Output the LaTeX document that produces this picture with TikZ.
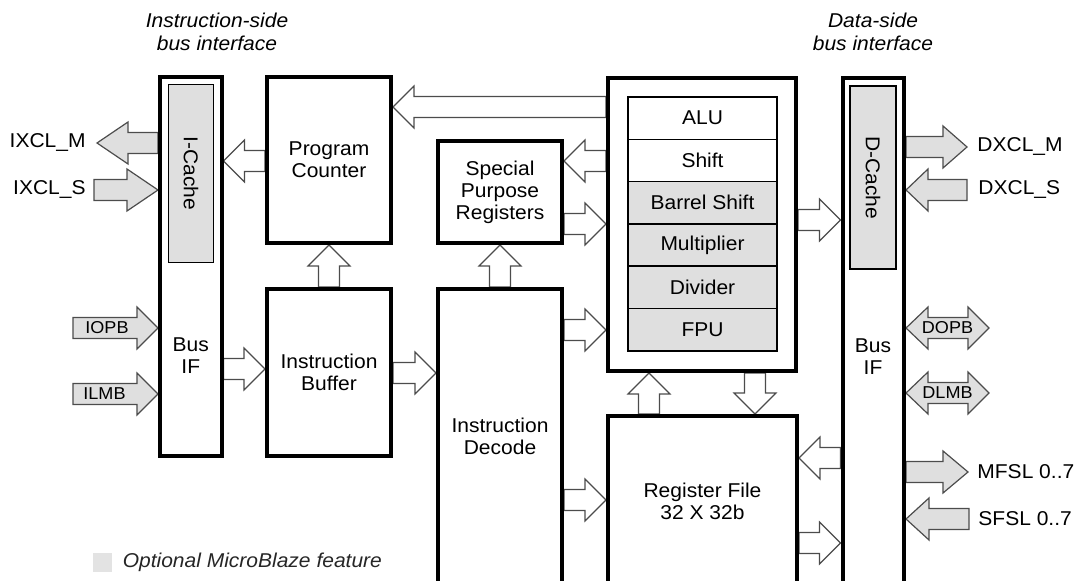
\documentclass[tikz,border=0pt]{standalone}
\usepackage{fontspec}
\setmainfont{Liberation Sans}[FakeStretch=1.05]
\usetikzlibrary{calc,positioning,backgrounds}

% fat block arrow: [head length]{style}{tail}{tip}
\newcommand{\fatarrow}[4][10.5pt]{%
  \coordinate (fa-tail) at (#3);
  \coordinate (fa-tip) at (#4);
  \coordinate (fa-base) at ($(fa-tip)!#1!(fa-tail)$);
  \draw[#2] ($(fa-tail)!5.25pt!90:(fa-tip)$)
    -- ($(fa-base)!5.25pt!90:(fa-tip)$) -- ($(fa-base)!10.5pt!90:(fa-tip)$)
    -- (fa-tip)
    -- ($(fa-base)!10.5pt!-90:(fa-tip)$) -- ($(fa-base)!5.25pt!-90:(fa-tip)$)
    -- ($(fa-tail)!5.25pt!-90:(fa-tip)$) -- cycle;}

% fat arrow with heads at both ends: {style}{end a}{end b}
\newcommand{\dblarrow}[3]{%
  \coordinate (da-a) at (#2);
  \coordinate (da-b) at (#3);
  \coordinate (da-ba) at ($(da-a)!11pt!(da-b)$);
  \coordinate (da-bb) at ($(da-b)!10.5pt!(da-a)$);
  \draw[#1] (da-a)
    -- ($(da-ba)!10.5pt!90:(da-b)$) -- ($(da-ba)!5.25pt!90:(da-b)$)
    -- ($(da-bb)!5.25pt!90:(da-b)$) -- ($(da-bb)!10.5pt!90:(da-b)$)
    -- (da-b)
    -- ($(da-bb)!10.5pt!-90:(da-b)$) -- ($(da-bb)!5.25pt!-90:(da-b)$)
    -- ($(da-ba)!5.25pt!-90:(da-b)$) -- ($(da-ba)!10.5pt!-90:(da-b)$)
    -- cycle;}

\begin{document}
\begin{tikzpicture}[x=0.5pt,y=-0.5pt,
    every node/.style={font=\fontsize{10pt}{11pt}\selectfont, align=center},
    box/.style={draw, line width=2pt, inner sep=0pt},
    cache/.style={draw, line width=0.75pt, fill=gray!25, inner sep=0pt},
    unit/.style={draw, line width=0.75pt, inner sep=0pt, outer sep=0pt, minimum width=74.5pt, minimum height=21.15pt},
    optunit/.style={unit, fill=gray!25},
    whiteblk/.style={draw=black!70, line width=0.6pt, fill=white},
    grayblk/.style={whiteblk, fill=gray!25},
    buslabel/.style={font=\fontsize{8.6pt}{9pt}\selectfont, inner sep=0pt},
    extlabel/.style={inner sep=0pt},
    sidetitle/.style={font=\fontsize{10pt}{11.5pt}\selectfont\itshape}]
    \useasboundingbox (0,0) rectangle (1079,581);
    \clip (0,0) rectangle (1079,581);

    % titles
    \node[sidetitle] (ititle) at (217,32) {Instruction-side\\bus interface};
    \node[sidetitle] (dtitle) at (873,32) {Data-side\\bus interface};

    % instruction side
    \node[box, minimum width=30.75pt, minimum height=189.5pt] (lbus) at (190.75,266.5) {};
    \node[cache, rotate=-90, minimum width=89pt, minimum height=22.5pt] (icache) at (191,173.5) {I-Cache};
    \node (lbustext) at (190.75,356) {Bus\\IF};
    \node[box, minimum width=62pt, minimum height=83pt] (pc) at (329,160) {Program\\Counter};
    \node[box, minimum width=62pt, minimum height=83.5pt] (ib) at (329,372.5) {Instruction\\Buffer};
    \node[box, minimum width=62pt, minimum height=51pt] (spr) at (500,192) {Special\\Purpose\\Registers};
    \node[box, minimum width=62pt, minimum height=147pt] (id) at (500,436) {Instruction\\Decode};

    % execution units
    \node[box, minimum width=94pt, minimum height=146.5pt] (exec) at (702,224.5) {};
    \node[unit] (alu) at (702.5,118.2) {ALU};
    \node[unit, below=0pt of alu] (shift) {Shift};
    \node[optunit, below=0pt of shift] (barrel) {Barrel Shift};
    \node[optunit, below=0pt of barrel] (mult) {Multiplier};
    \node[optunit, below=0pt of mult] (div) {Divider};
    \node[optunit, below=0pt of div] (fpu) {FPU};
    \node[box, minimum width=94.5pt, minimum height=85pt] (regf) at (702.5,501) {Register File\\32 X 32b};

    % data side
    \node[box, minimum width=30.75pt, minimum height=256pt] (rbus) at (873.25,334) {};
    \node[cache, rotate=-90, minimum width=91.5pt, minimum height=23pt] (dcache) at (873,177.5) {D-Cache};
    \node (rbustext) at (873,357) {Bus\\IF};

    % free ends of the outside buses
    \coordinate (ixclm-end) at (97,143);
    \coordinate (ixcls-end) at (94,190);
    \coordinate (iopb-end) at (73,328);
    \coordinate (ilmb-end) at (73,394);
    \coordinate (dxclm-end) at (967,147);
    \coordinate (dxcls-end) at (967,190);
    \coordinate (dopb-end) at (989,328);
    \coordinate (dlmb-end) at (989,393);
    \coordinate (mfsl-end) at (968,472);
    \coordinate (sfsl-end) at (969,519);

    \begin{scope}[on background layer]
    % internal paths
    \fatarrow{whiteblk}{exec.west |- 0,107}{pc.east |- 0,107}
    \fatarrow{whiteblk}{pc.west |- 0,161}{lbus.east |- 0,161}
    \fatarrow{whiteblk}{exec.west |- 0,161}{spr.east |- 0,161}
    \fatarrow{whiteblk}{spr.east |- 0,224}{exec.west |- 0,224}
    \fatarrow{whiteblk}{ib.north}{pc.south}
    \fatarrow{whiteblk}{lbus.east |- 0,369}{ib.west |- 0,369}
    \fatarrow{whiteblk}{ib.east |- 0,373}{id.west |- 0,373}
    \fatarrow{whiteblk}{id.north}{spr.south}
    \fatarrow{whiteblk}{id.east |- 0,330}{exec.west |- 0,330}
    \fatarrow{whiteblk}{id.east |- 0,500}{regf.west |- 0,500}
    \fatarrow{whiteblk}{regf.north -| 649,0}{exec.south -| 649,0}
    \fatarrow{whiteblk}{exec.south -| 755,0}{regf.north -| 755,0}
    \fatarrow{whiteblk}{exec.east |- 0,220}{rbus.west |- 0,220}
    \fatarrow{whiteblk}{rbus.west |- 0,458}{regf.east |- 0,458}
    \fatarrow{whiteblk}{regf.east |- 0,543}{rbus.west |- 0,543}
    % outside buses
    \fatarrow[15.5pt]{grayblk}{lbus.west |- ixclm-end}{ixclm-end}
    \fatarrow[15.5pt]{grayblk}{ixcls-end}{lbus.west |- ixcls-end}
    \fatarrow{grayblk}{iopb-end}{lbus.west |- iopb-end}
    \fatarrow{grayblk}{ilmb-end}{lbus.west |- ilmb-end}
    \fatarrow[12pt]{grayblk}{rbus.east |- dxclm-end}{dxclm-end}
    \fatarrow[11pt]{grayblk}{dxcls-end}{rbus.east |- dxcls-end}
    \dblarrow{grayblk}{rbus.east |- dopb-end}{dopb-end}
    \dblarrow{grayblk}{rbus.east |- dlmb-end}{dlmb-end}
    \fatarrow[12.5pt]{grayblk}{rbus.east |- mfsl-end}{mfsl-end}
    \fatarrow[11.5pt]{grayblk}{sfsl-end}{rbus.east |- sfsl-end}
    \end{scope}

    % bus names
    \node[extlabel, left=5.5pt of ixclm-end] (ixclm) {IXCL\_M};
    \node[extlabel, left=4pt of ixcls-end] (ixcls) {IXCL\_S};
    \node[buslabel, right=6pt of iopb-end] (iopb) {IOPB};
    \node[buslabel, right=5pt of ilmb-end] (ilmb) {ILMB};
    \node[extlabel, right=5pt of dxclm-end] (dxclm) {DXCL\_M};
    \node[extlabel, right=5.5pt of dxcls-end] (dxcls) {DXCL\_S};
    \node[buslabel] (dopb) at ($(rbus.east |- dopb-end)!.5!(dopb-end)$) {DOPB};
    \node[buslabel] (dlmb) at ($(rbus.east |- dlmb-end)!.5!(dlmb-end)$) {DLMB};
    \node[extlabel, right=4.5pt of mfsl-end] (mfsl) {MFSL 0..7};
    \node[extlabel, right=4.5pt of sfsl-end] (sfsl) {SFSL 0..7};

    % legend
    \node[fill=gray!22, minimum size=9.5pt, inner sep=0pt] (legbox) at (102.5,562.5) {};
    \node[right=5pt of legbox, inner sep=0pt, font=\fontsize{10pt}{11pt}\selectfont\itshape, text=black!85] (legtext) {Optional MicroBlaze feature};
\end{tikzpicture}
\end{document}
